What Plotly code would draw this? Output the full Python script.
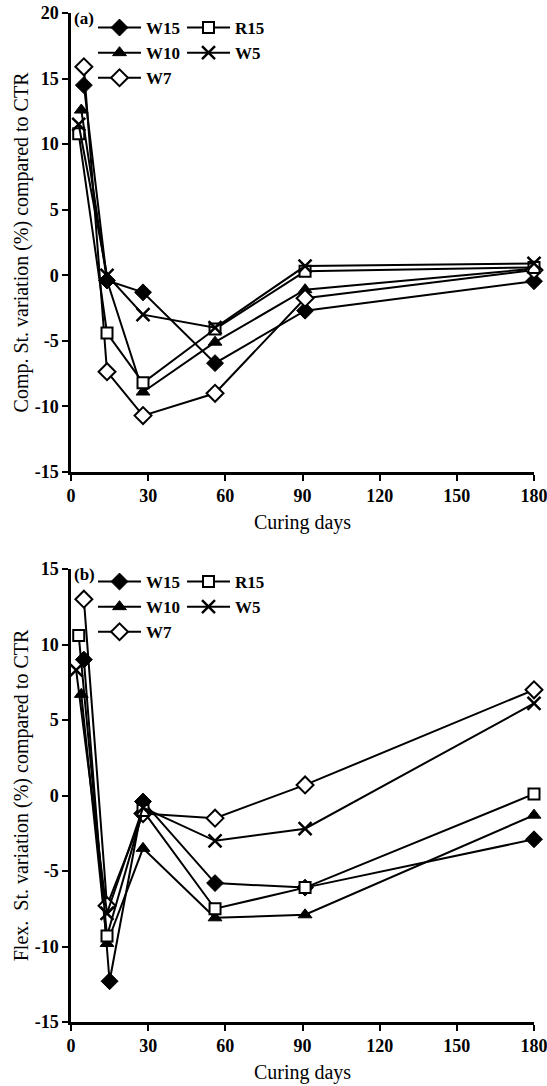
import plotly.graph_objects as go

# ---------------- data ----------------
series_names = ["W15", "W10", "W7", "R15", "W5"]

# Panel (a): compressive strength variation
days_a_W15 = [5, 14, 28, 56, 91, 180]
days_a_W10 = [4, 14, 28, 56, 91, 180]
days_a_W7 = [5, 14, 28, 56, 91, 180]
days_a_R15 = [3, 14, 28, 56, 91, 180]
days_a_W5 = [3, 14, 28, 56, 91, 180]
comp_W15 = [14.5, -0.4, -1.3, -6.7, -2.7, -0.45]
comp_W10 = [12.6, -0.4, -8.9, -5.1, -1.1, 0.5]
comp_W7 = [15.9, -7.35, -10.7, -9.0, -1.75, 0.4]
comp_R15 = [10.8, -4.4, -8.2, -4.1, 0.3, 0.6]
comp_W5 = [11.5, 0.0, -3.0, -4.0, 0.7, 0.9]

# Panel (b): flexural strength variation
days_b_W15 = [5, 15, 28, 56, 91, 180]
days_b_W10 = [4, 14, 28, 56, 91, 180]
days_b_W7 = [5, 14, 28, 56, 91, 180]
days_b_R15 = [3, 14, 28, 56, 91, 180]
days_b_W5 = [2, 14, 28, 56, 91, 180]
flex_W15 = [9.0, -12.3, -0.4, -5.8, -6.1, -2.9]
flex_W10 = [6.7, -9.8, -3.5, -8.1, -7.9, -1.3]
flex_W7 = [13.0, -7.3, -1.2, -1.5, 0.7, 7.0]
flex_R15 = [10.6, -9.3, -1.0, -7.5, -6.1, 0.1]
flex_W5 = [8.3, -7.8, -0.8, -3.0, -2.2, 6.1]

x_ticks = [0, 30, 60, 90, 120, 150, 180]
x_ticklabels = ["0", "30", "60", "90", "120", "150", "180"]
y_ticks_a = [-15, -10, -5, 0, 5, 10, 15, 20]
y_ticklabels_a = ["-15", "-10", "-5", "0", "5", "10", "15", "20"]
y_ticks_b = [-15, -10, -5, 0, 5, 10, 15]
y_ticklabels_b = ["-15", "-10", "-5", "0", "5", "10", "15"]

# ---------------- styles ----------------
SERIF = "Liberation Serif"
styles = {
    "W15": dict(symbol="diamond", color="black", size=13, lw=1),
    "W10": dict(symbol="triangle-up", color="black", size=12, lw=1),
    "W7": dict(symbol="diamond", color="white", size=13, lw=2),
    "R15": dict(symbol="square", color="white", size=11, lw=2),
    "W5": dict(symbol="x-thin", color="black", size=13, lw=2.5),
}

fig = go.Figure()

panel_a = {
    "W15": (days_a_W15, comp_W15),
    "W10": (days_a_W10, comp_W10),
    "W7": (days_a_W7, comp_W7),
    "R15": (days_a_R15, comp_R15),
    "W5": (days_a_W5, comp_W5),
}
panel_b = {
    "W15": (days_b_W15, flex_W15),
    "W10": (days_b_W10, flex_W10),
    "W7": (days_b_W7, flex_W7),
    "R15": (days_b_R15, flex_R15),
    "W5": (days_b_W5, flex_W5),
}

legend_map_a = {"W15": "legend", "W10": "legend", "W7": "legend",
                "R15": "legend2", "W5": "legend2"}
legend_map_b = {"W15": "legend3", "W10": "legend3", "W7": "legend3",
                "R15": "legend4", "W5": "legend4"}

for panel, xa, ya, lmap in [(panel_a, "x", "y", legend_map_a),
                            (panel_b, "x2", "y2", legend_map_b)]:
    for name in series_names:
        xs, ys = panel[name]
        st = styles[name]
        fig.add_trace(go.Scatter(
            x=xs, y=ys, name=name, mode="lines+markers",
            xaxis=xa, yaxis=ya, legend=lmap[name],
            line=dict(color="black", width=2),
            marker=dict(symbol=st["symbol"], color=st["color"], size=st["size"],
                        line=dict(color="black", width=st["lw"])),
            cliponaxis=False,
        ))

W, H = 547, 1086
x_dom = [71 / W, 534 / W]
ya_dom = [1 - 472 / H, 1 - 13 / H]
yb_dom = [1 - 1022 / H, 1 - 569 / H]

tickfont = dict(family=SERIF, size=18, color="black", weight="bold")
titlefont = dict(family=SERIF, size=20, color="black")

def xaxis(dom_anchor):
    return dict(domain=x_dom, anchor=dom_anchor, range=[0, 180],
                tickvals=x_ticks, ticktext=x_ticklabels,
                showline=True, linewidth=2.5, linecolor="black",
                ticks="outside", ticklen=6, tickwidth=2, tickcolor="black",
                showgrid=False, zeroline=False, tickfont=tickfont,
                ticklabeloverflow="allow",
                title=dict(text="Curing days", font=titlefont, standoff=10),
                automargin=False)

def yaxis(dom, anchor, rng, tv, tt, title):
    return dict(domain=dom, anchor=anchor, range=rng,
                tickvals=tv, ticktext=tt,
                showline=True, linewidth=2.5, linecolor="black",
                ticks="outside", ticklen=6, tickwidth=2, tickcolor="black",
                showgrid=False, zeroline=False, tickfont=tickfont,
                ticklabeloverflow="allow",
                title=dict(text=title, font=titlefont, standoff=1),
                automargin=False)

legfont = dict(family=SERIF, size=17, color="black", weight="bold")

def leg(x, y):
    return dict(x=x, y=y, xanchor="left", yanchor="top", font=legfont,
                bgcolor="rgba(0,0,0,0)", borderwidth=0, tracegroupgap=0,
                itemwidth=43, orientation="v")

fig.update_layout(
    width=W, height=H,
    margin=dict(l=0, r=0, t=0, b=0),
    paper_bgcolor="white", plot_bgcolor="white",
    showlegend=True,
    xaxis=xaxis("y"),
    yaxis=yaxis(ya_dom, "x", [-15, 20], y_ticks_a, y_ticklabels_a,
                "Comp. St. variation (%) compared to CTR"),
    xaxis2=xaxis("y2"),
    yaxis2=yaxis(yb_dom, "x2", [-15, 15], y_ticks_b, y_ticklabels_b,
                 "Flex.\u00a0 St. variation (%) compared to CTR"),
    legend=leg(93 / W, 1 - 10 / H),
    legend2=leg(182 / W, 1 - 10 / H),
    legend3=leg(93 / W, 1 - 564 / H),
    legend4=leg(182 / W, 1 - 564 / H),
    annotations=[
        dict(text="(a)", x=72 / W, y=1 - 7 / H, xref="paper", yref="paper",
             xanchor="left", yanchor="top", showarrow=False,
             font=dict(family=SERIF, size=17, color="black", weight="bold")),
        dict(text="(b)", x=72 / W, y=1 - 563 / H, xref="paper", yref="paper",
             xanchor="left", yanchor="top", showarrow=False,
             font=dict(family=SERIF, size=17, color="black", weight="bold")),
    ],
)

fig.write_html("out.html")
